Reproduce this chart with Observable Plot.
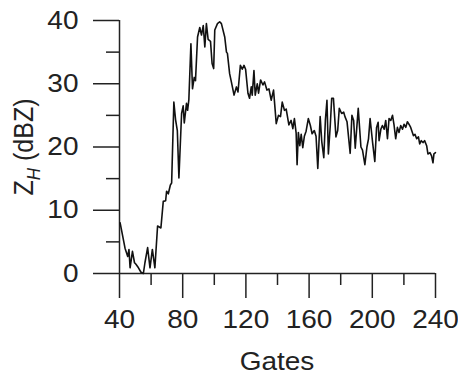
<!DOCTYPE html>
<html><head><meta charset="utf-8">
<script src="https://cdn.jsdelivr.net/npm/d3@7"></script>
<script src="https://cdn.jsdelivr.net/npm/@observablehq/plot@0.6"></script>
<style>body{margin:0;background:#fff} svg{display:block}</style>
</head><body><div id="chart"></div>
<script>
const gates = [40.4,43.5,45.2,46,46.7,48.2,49.5,50.3,52,53.6,55.1,56.1,57.8,59.3,60.8,62.4,64.1,66.2,67.7,69.2,69.8,70.9,72.2,73,74.4,75.5,76.6,77.6,79.3,80.3,81,82.4,83.1,83.9,85.2,86.2,87.3,88.1,89.4,90.8,91.9,93,94,95,96.1,97.6,98.6,99.6,100.3,102,103.4,104.5,106.6,107.7,108.3,109.7,110.8,112.5,114,115,116.5,117.7,118.8,119.8,121.3,122.3,123.4,124,125.1,125.9,127.2,128,129.3,130.8,131.8,133.3,134.6,136,137.5,139.2,140.6,141.9,143,144.4,145.5,147.2,148.6,149.7,150.7,151.8,152.4,153.2,154.1,155,156,157,158.1,159.5,160.8,161.9,163.3,164.4,165.5,167,168,169.3,170.3,171.3,172.2,173.4,174.3,175.4,177,178.1,179.1,180.6,181.9,182.7,184,186,187.1,188.2,189.2,191.1,192.8,193.8,195.3,196.6,197.6,198.6,200.2,201.6,202.7,203.7,204.3,205.4,206.4,207.5,208.5,209.6,210.6,211.7,212.8,213.8,214.8,215.9,216.9,218,219.1,220.1,221.2,222.2,223.2,224.3,226,227,228.1,229.2,230,231,232.1,233.1,234.4,235.2,236.5,237.5,238.4,239,240];
const zh = [8.0,4.0,2.7,3.8,0.9,3.5,1.7,1.5,0.9,0.2,0,1.7,4.1,0.9,3.8,0.9,7.5,7.2,11.4,11.5,13.0,12.6,14.0,14.3,27.1,24.3,22.6,15.1,25.3,26.5,23.8,26.9,25.8,27.5,36.3,29.2,31.0,30.5,37.4,38.9,37.7,39.2,35.8,39.5,37.0,36.7,33.2,32.4,38.5,39.5,39.8,39.5,37.4,35.0,34.8,31.6,30.3,28.2,29.5,28.7,32.9,32.3,32.9,32.3,28.5,27.7,29.5,28.2,32.1,28.2,30.0,28.5,30.6,29.8,30.3,29.0,29.2,27.4,29.0,23.7,25.0,24.8,27.1,25.8,26.0,23.5,24.2,22.9,24.5,22.2,17.2,22.3,20.2,22.0,19.9,21.7,22.5,24.5,23.4,22.1,22.6,21.7,16.6,24.8,20.9,18.3,24.2,27.4,18.9,23.4,27.7,27.7,21.6,22.6,26.1,25.3,25.5,24.8,24.0,19.0,25.0,24.2,19.8,26.1,20.0,19.5,17.2,20.0,21.3,24.5,20.7,17.7,23.1,23.9,21.0,22.8,23.4,22.8,24.2,21.3,24.5,24.2,25.0,23.4,21.3,23.1,22.3,23.4,22.8,23.6,23.1,24.0,23.6,23.1,21.8,22.0,21.3,21.6,20.5,21.0,20.7,21.0,20.2,18.9,19.1,18.6,17.5,18.9,19.1];
const xMajorTicks = [40,80,120,160,200,240];
const xMinorTicks = [60,100,140,180,220];
const yMajorTicks = [0,10,20,30,40];
const yMinorTicks = [5,15,25,35];
const xLabel = "Gates";
const yLabelMain = "Z", yLabelSub = "H", yLabelRest = " (dBZ)";

const data = gates.map((g, i) => ({gate: g, zh: zh[i]}));
const font = "'Liberation Sans', Arial, sans-serif";
const stretch = 1.12;
const plot = Plot.plot({
  width: 458, height: 377,
  marginLeft: 119, marginRight: 23, marginTop: 20, marginBottom: 104,
  style: {fontFamily: font, fontSize: "25px", color: "#222", background: "#fff"},
  x: {domain: [40, 240]},
  y: {domain: [0, 40]},
  marks: [
    Plot.axisX({ticks: xMajorTicks, tickSize: 25, tickPadding: 12, label: null, fontSize: 25, strokeWidth: 1.5}),
    Plot.axisX({ticks: xMinorTicks, tickSize: 12, tickFormat: () => "", label: null, strokeWidth: 1.5}),
    Plot.axisY({ticks: yMajorTicks, tickSize: 26, tickPadding: 15, label: null, fontSize: 25, strokeWidth: 1.5}),
    Plot.axisY({ticks: yMinorTicks, tickSize: 13, tickFormat: () => "", label: null, strokeWidth: 1.5}),
    Plot.ruleY([0], {stroke: "#222", strokeWidth: 1.5}),
    Plot.ruleX([40], {stroke: "#222", strokeWidth: 1.5}),
    Plot.line(data, {x: "gate", y: "zh", stroke: "#111", strokeWidth: 1.6})
  ]
});
document.getElementById("chart").appendChild(plot);
const svg = d3.select(plot);
// widen the tick label glyphs slightly to match the reference typeface
svg.selectAll("text").each(function() {
  const t = this.getAttribute("transform") || "";
  this.setAttribute("transform", (t + ` scale(${stretch},1)`).trim());
});
svg.append("text").attr("transform", `translate(277,370) scale(${stretch},1)`).attr("text-anchor", "middle")
  .attr("font-family", font).attr("font-size", 25).attr("fill", "#222").text(xLabel);
const yl = svg.append("text").attr("transform", `translate(33,147) rotate(-90) scale(1,${stretch})`)
  .attr("text-anchor", "middle").attr("font-family", font).attr("font-size", 25).attr("fill", "#222");
yl.append("tspan").text(yLabelMain);
yl.append("tspan").attr("font-size", 17).attr("font-style", "italic").attr("dy", 6).text(yLabelSub);
yl.append("tspan").attr("dy", -6).text(yLabelRest);
</script></body></html>
